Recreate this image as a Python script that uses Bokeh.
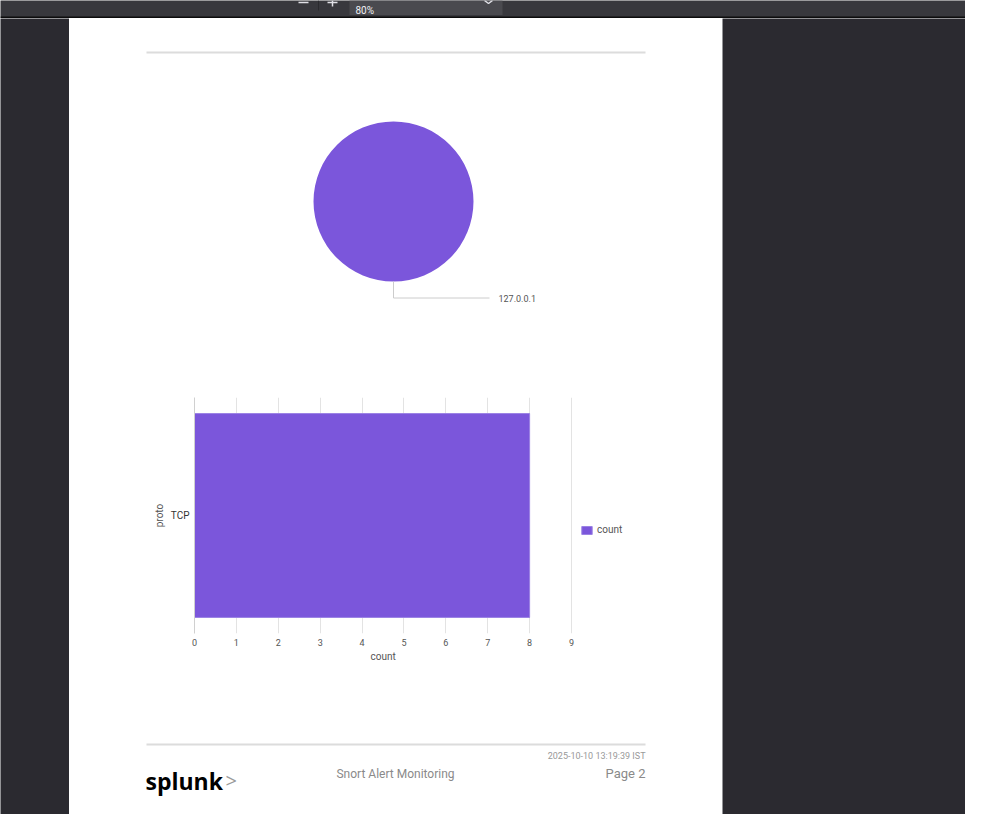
import numpy as np
from bokeh.plotting import figure
from bokeh.layouts import column, row
from bokeh.models import Range1d, FactorRange, FixedTicker, Legend, LegendItem, Title
from bokeh.embed import file_html
from bokeh.resources import INLINE
from bokeh.core.properties import value

# ---------------- data ----------------
pie_labels = ["127.0.0.1"]
pie_values = [8]
proto = ["TCP"]
counts = [8]
x_ticks = [0, 1, 2, 3, 4, 5, 6, 7, 8, 9]
series_name = "count"
report_title = "Snort Alert Monitoring"
timestamp = "2025-10-10 13:19:39 IST"
page_label = "Page 2"
zoom_label = "80%"

PURPLE = "#7b56db"
DARK = "#2b2a30"
TOOL = "#38383d"
FONT = "Roboto"


def chrome(w, h, x0, x1, y0, y1, bg):
    p = figure(width=w, height=h, x_range=Range1d(x0, x1), y_range=Range1d(y1, y0),
               output_backend="svg", toolbar_location=None,
               x_axis_type=None, y_axis_type=None, min_border=0,
               background_fill_color=bg, border_fill_color=bg,
               outline_line_color=None, frame_align=False)
    return p


# ---------- viewer toolbar ----------
tb = chrome(965, 18, 0, 965, 0, 18, TOOL)
tb.quad(left=[349], right=[502], top=[0], bottom=[14.5], fill_color="#4a4a4f", line_color=None)
tb.segment(x0=[0], x1=[965], y0=[17], y1=[17], line_color="#0c0c0d", line_width=2)
tb.segment(x0=[318], x1=[318], y0=[0], y1=[10], line_color="#2a2a2e", line_width=1)
tb.segment(x0=[298, 327, 332], x1=[308, 337, 332], y0=[2, 2, 0], y1=[2, 2, 6],
           line_color="#e0e0e6", line_width=1.5)
tb.line(x=[484, 488, 492], y=[0, 3, 0], line_color="#e0e0e6", line_width=1.5)
tb.text(x=[355], y=[10], text=[zoom_label], text_font=value(FONT), text_font_size="10px",
        text_color="#f0f0f4", text_baseline="alphabetic")

left = chrome(69, 796, 0, 69, 18, 814, DARK)
right = chrome(243, 796, 722, 965, 18, 814, DARK)

# ---------- pie ----------
pie = chrome(653, 352, 69, 722, 18, 370, "#ffffff")
pie.segment(x0=[146], x1=[645], y0=[52], y1=[52], line_color="#dcdcdc", line_width=2)
vals = np.array(pie_values, dtype=float)
cum = np.concatenate([[0.0], np.cumsum(vals) / vals.sum()])
starts = 2 * np.pi * cum[:-1] + np.pi / 2
ends = 2 * np.pi * cum[1:] + np.pi / 2
pie.wedge(x=393, y=201, radius=80, radius_units="screen",
          start_angle=starts, end_angle=ends, fill_color=PURPLE, line_color=None)
pie.line(x=[393, 393, 489], y=[281, 297.5, 297.5], line_color="#cccccc", line_width=1)
pie.text(x=[498], y=[298], text=pie_labels, text_font=value(FONT), text_font_size="9px",
         text_color="#555555", text_baseline="middle")

# ---------- bar ----------
# frame spans the page to the right edge so that the legend can sit inside it;
# the axis is drawn only over 0..9 (same px-per-unit as the original chart)
X_END = 9 * (722 - 194) / (571 - 194)
bar = figure(width=653, height=330, x_range=Range1d(0, X_END),
             y_range=FactorRange(factors=proto), output_backend="svg",
             toolbar_location=None, min_border_left=125, min_border_right=0,
             min_border_top=27, min_border_bottom=67, outline_line_color=None,
             background_fill_color="#ffffff", border_fill_color="#ffffff",
             frame_align=False)
r = bar.hbar(y=proto, right=counts, height=0.864, fill_color=PURPLE,
             line_color="#9b82e4", line_width=1)
bar.xaxis.ticker = FixedTicker(ticks=x_ticks)
bar.xaxis.bounds = (0, 9)
bar.xaxis.axis_line_color = None
bar.xaxis.major_tick_line_color = None
bar.xaxis.minor_tick_line_color = None
bar.xaxis.major_tick_out = 0
bar.xaxis.major_tick_in = 0
bar.xaxis.minor_tick_out = 0
bar.xaxis.major_label_text_font = FONT
bar.xaxis.major_label_text_font_size = "9px"
bar.xaxis.major_label_text_color = "#555555"
bar.xaxis.major_label_standoff = 5
bar.yaxis.axis_line_color = "#d0d0d0"
bar.yaxis.major_tick_line_color = None
bar.yaxis.minor_tick_line_color = None
bar.yaxis.major_tick_out = 0
bar.yaxis.major_tick_in = 0
bar.yaxis.major_label_text_font = FONT
bar.yaxis.major_label_text_font_size = "10px"
bar.yaxis.major_label_text_color = "#333333"
bar.yaxis.major_label_standoff = 5
bar.yaxis.axis_label = "proto"
bar.yaxis.axis_label_text_font = FONT
bar.yaxis.axis_label_text_font_size = "10px"
bar.yaxis.axis_label_text_font_style = "normal"
bar.yaxis.axis_label_text_color = "#555555"
bar.yaxis.axis_label_standoff = 3
bar.xgrid.ticker = FixedTicker(ticks=x_ticks)
bar.xgrid.grid_line_color = "#e3e3e3"
bar.ygrid.grid_line_color = None
# x-axis title, centred under the 0..9 axis
bar.add_layout(Title(text=series_name, align="left", offset=176, standoff=0,
                     text_font=FONT, text_font_size="10px", text_font_style="normal",
                     text_color="#555555"), "below")
lg = Legend(items=[LegendItem(label=series_name, renderers=[r])], location=(386, 98),
            padding=0, margin=0, spacing=0, glyph_width=13, glyph_height=10,
            label_height=10, label_standoff=4, label_text_font=FONT,
            label_text_font_size="10px", label_text_color="#555555",
            border_line_color=None, background_fill_alpha=0)
bar.add_layout(lg)

# ---------- footer ----------
ft = chrome(653, 114, 69, 722, 700, 814, "#ffffff")
ft.segment(x0=[146], x1=[645], y0=[744], y1=[744], line_color="#dcdcdc", line_width=2)
ft.text(x=[145], y=[780], text=["splunk"], text_font=value("Open Sans"), text_font_size="23px",
        text_font_style="bold", text_color="#000000", text_baseline="alphabetic")
ft.text(x=[225], y=[780], text=[">"], text_font=value("Open Sans"), text_font_size="20px",
        text_color="#9a9a9a", text_baseline="alphabetic")
ft.text(x=[395], y=[773], text=[report_title], text_font=value(FONT), text_font_size="12px",
        text_color="#8a8a8a", text_align="center", text_baseline="middle")
ft.text(x=[645], y=[755], text=[timestamp], text_font=value(FONT), text_font_size="9px",
        text_color="#999999", text_align="right", text_baseline="middle")
ft.text(x=[645], y=[773], text=[page_label], text_font=value(FONT), text_font_size="13px",
        text_color="#8a8a8a", text_align="right", text_baseline="middle")

root = column(tb, row(left, column(pie, bar, ft), right))

open("out.html", "w").write(file_html(root, INLINE))
